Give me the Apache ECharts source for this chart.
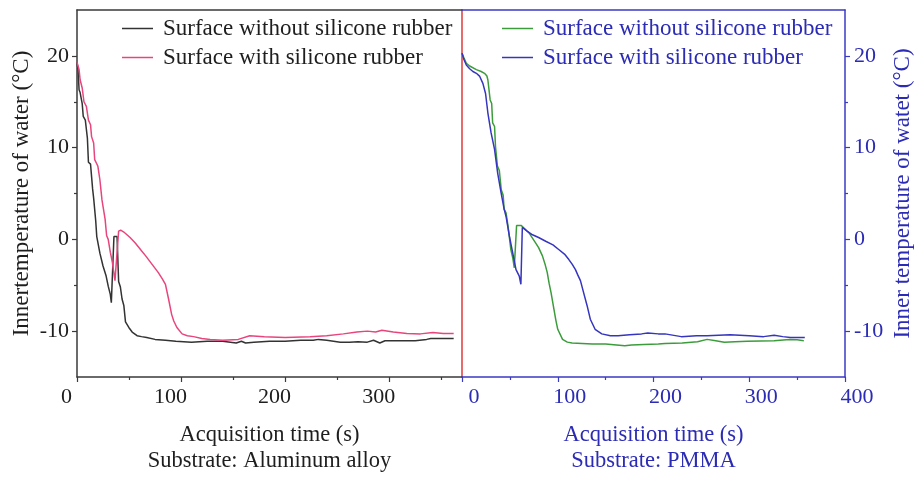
<!DOCTYPE html>
<html>
<head>
<meta charset="utf-8">
<script src="https://cdn.jsdelivr.net/npm/echarts@6/dist/echarts.min.js"></script>
<style>
  html, body { margin: 0; padding: 0; background: #ffffff; }
  #chart { width: 915px; height: 479px; }
</style>
</head>
<body>
<div id="chart"></div>
<script>
// Inner water temperature during freezing, two substrates side by side.

const legendLabels = ['Surface without silicone rubber', 'Surface with silicone rubber'];
const xMajorTicks = [0, 100, 200, 300];
const xMinorTicks = [50, 150, 250, 350];
const xMajorTicksPmma = [0, 100, 200, 300, 400];
const yMajorTicks = [-10, 0, 10, 20];
const yMinorTicks = [-5, 5, 15];

// Substrate: aluminum alloy, bare surface
const alBareTime = [0, 1, 2, 3, 5, 6, 8, 10, 11, 13, 15, 16, 18, 19, 22, 25, 28, 30, 32, 33, 34.5, 35.5, 38.5, 40, 41.7, 43.3, 45, 46.6, 49.8, 53, 57.7, 62, 67, 75, 85, 95, 110, 125, 140, 153, 158, 162, 170, 185, 200, 215, 227, 232, 240, 253, 262, 270, 279, 285, 291, 296, 310, 325, 336, 340, 350, 362];
const alBareTemp = [19.3, 18.5, 16.3, 16.0, 14.8, 13.4, 13.0, 11.0, 8.4, 8.2, 5.5, 4.5, 2.0, 0.3, -1.5, -2.9, -4.0, -5.1, -6.0, -6.9, -6.9, 0.3, 0.3, -4.6, -5.2, -6.5, -7.2, -9.0, -9.6, -10.1, -10.5, -10.6, -10.7, -10.9, -11.0, -11.1, -11.2, -11.1, -11.1, -11.3, -11.1, -11.3, -11.2, -11.1, -11.1, -11.0, -11.0, -10.9, -11.0, -11.2, -11.2, -11.15, -11.2, -11.0, -11.3, -11.05, -11.05, -11.05, -10.9, -10.8, -10.8, -10.8];

// Substrate: aluminum alloy, silicone rubber coated
const alCoatTime = [0, 2, 3, 5, 6.7, 9, 11, 13, 14, 16, 17, 20, 22, 24, 25, 27, 28.5, 30, 32, 34, 35, 36.5, 38, 40, 42, 45, 51, 56, 61, 66, 70, 74, 78, 82, 85, 88, 91, 93, 96, 101, 106, 112, 120, 128, 140, 155, 166, 180, 200, 224, 240, 256, 269, 279, 287, 293, 304, 317, 330, 342, 352, 362];
const alCoatTemp = [19.3, 18.5, 17.4, 16.5, 15.0, 14.5, 13.0, 12.5, 11.2, 10.5, 8.7, 8.0, 6.5, 4.3, 3.6, 2.2, 0.4, 0.0, -1.4, -2.5, -3.3, -4.5, -4.5, 0.9, 1.0, 0.8, 0.2, -0.4, -1.1, -1.8, -2.4, -3.0, -3.6, -4.3, -4.9, -6.5, -8.2, -8.9, -9.6, -10.3, -10.5, -10.6, -10.8, -10.9, -11.0, -10.9, -10.5, -10.6, -10.7, -10.6, -10.5, -10.3, -10.1, -10.0, -10.1, -9.9, -10.1, -10.25, -10.3, -10.15, -10.25, -10.25];

// Substrate: PMMA, bare surface
const pmmaBareTime = [0, 2, 4.5, 8, 15, 20, 23.5, 26, 27, 29.4, 31, 32, 34, 35, 37, 39, 41, 43, 44, 46, 48, 51, 53, 54.6, 56, 57, 62, 66, 70, 77, 80, 84, 87, 89, 91, 93, 96, 98, 100, 105, 110, 115, 136, 150, 170, 177, 190, 205, 212, 230, 246, 256, 265, 274, 285, 298, 326, 342, 350, 357];
const pmmaBareTemp = [20.3, 19.8, 19.2, 18.9, 18.5, 18.3, 18.1, 17.8, 17.4, 15.2, 14.8, 12.7, 12.3, 10.1, 8.0, 7.5, 5.4, 4.8, 3.3, 2.9, 1.5, -1.1, -2.0, -3.1, -3.1, 1.5, 1.5, 1.1, 0.7, -0.4, -0.9, -1.8, -2.8, -3.6, -4.8, -5.8, -7.6, -8.8, -9.8, -10.9, -11.2, -11.3, -11.4, -11.4, -11.6, -11.5, -11.45, -11.4, -11.35, -11.3, -11.15, -10.9, -11.05, -11.2, -11.15, -11.1, -11.05, -10.9, -10.95, -11.05];

// Substrate: PMMA, silicone rubber coated
const pmmaCoatTime = [0, 2, 4.5, 8, 11.4, 15, 18.3, 21.8, 24.6, 27, 30.4, 34, 37.3, 40.8, 44, 46, 49.4, 52.8, 56.4, 59.8, 61.5, 63, 68, 73.6, 80, 87.4, 95, 101, 107, 111.6, 115, 118.5, 121, 123.7, 127, 130.6, 134, 139, 146, 155, 163, 175, 187.5, 194, 205, 212, 229, 245, 256, 268, 280, 300, 315, 326, 335, 343, 358];
const pmmaCoatTemp = [20.3, 19.6, 19.0, 18.6, 18.3, 18.1, 17.8, 17.0, 15.9, 13.8, 11.6, 9.8, 7.2, 5.1, 3.3, 2.5, 0.4, -1.4, -3.3, -4.0, -4.9, 1.3, 0.9, 0.5, 0.2, -0.2, -0.6, -1.1, -1.6, -2.2, -2.7, -3.3, -3.9, -4.5, -5.8, -7.2, -8.7, -9.8, -10.3, -10.5, -10.5, -10.4, -10.3, -10.2, -10.3, -10.3, -10.6, -10.5, -10.5, -10.45, -10.4, -10.5, -10.6, -10.45, -10.6, -10.7, -10.7];

const FONT = '"Liberation Serif", "Times New Roman", serif';
const DARK = '#3a3a3a';
const TEXT_DARK = '#1e1e1e';
const BLUE = '#3a3ac4';
const TEXT_BLUE = '#2b2bb5';
const RED = '#e03a3a';

const pairs = (xs, ys) => xs.map((x, i) => [x, ys[i]]);

// Series names are distinct per panel; the legend shows the shared label.
const legendText = {
  'al-bare': legendLabels[0],
  'al-coat': legendLabels[1],
  'pmma-bare': legendLabels[0],
  'pmma-coat': legendLabels[1]
};

const lineSeries = (name, xIdx, yIdx, data, color) => ({
  name, type: 'line', xAxisIndex: xIdx, yAxisIndex: yIdx, data,
  symbol: 'none', showSymbol: false, smooth: false,
  lineStyle: { color, width: 1.5 }, itemStyle: { color }
});

const labelFont = { fontFamily: FONT, fontSize: 22 };
const legendFont = { fontFamily: FONT, fontSize: 23 };
const yNameFont = { fontFamily: FONT, fontSize: 23 };

const legendBase = {
  orient: 'vertical', top: 17, icon: 'rect',
  itemWidth: 31, itemHeight: 1.5, itemGap: 6, padding: 0,
  formatter: n => legendText[n], selectedMode: false
};

const option = {
  backgroundColor: '#ffffff',
  animation: false,
  grid: [
    { left: 77, top: 10, width: 385, height: 369 },
    { left: 462, top: 10, width: 386, height: 369 }
  ],
  legend: [
    {
      ...legendBase, data: ['al-bare', 'al-coat'], left: 122,
      textStyle: { ...legendFont, color: TEXT_DARK, padding: [0, 0, 0, 5], lineHeight: 22 }
    },
    {
      ...legendBase, data: ['pmma-bare', 'pmma-coat'], left: 502,
      textStyle: { ...legendFont, color: TEXT_BLUE, padding: [0, 0, 0, 5], lineHeight: 22 }
    }
  ],
  xAxis: [
    {
      gridIndex: 0, type: 'value', min: 0, max: 370, position: 'bottom',
      axisLine: { onZero: false, lineStyle: { color: DARK, width: 1.5 } },
      axisTick: { customValues: xMajorTicks, length: 5, lineStyle: { color: DARK, width: 1.2 } },
      axisLabel: { customValues: xMajorTicks, ...labelFont, color: TEXT_DARK, margin: 9, padding: [0, 21, 0, 0] },
      splitLine: { show: false },
      name: 'Acquisition time (s)\nSubstrate: Aluminum alloy',
      nameLocation: 'middle', nameGap: 45,
      nameTextStyle: { fontFamily: FONT, fontSize: 22.5, color: TEXT_DARK, lineHeight: 26 }
    },
    {
      gridIndex: 0, type: 'value', min: 0, max: 370, position: 'bottom',
      axisLine: { show: false, onZero: false },
      axisTick: { customValues: xMinorTicks, length: 3, lineStyle: { color: DARK, width: 1.2 } },
      axisLabel: { show: false }, splitLine: { show: false }
    },
    {
      gridIndex: 0, type: 'value', min: 0, max: 370, position: 'top',
      axisLine: { onZero: false, lineStyle: { color: DARK, width: 1.5 } },
      axisTick: { show: false }, axisLabel: { show: false }, splitLine: { show: false }
    },
    {
      gridIndex: 1, type: 'value', min: 0, max: 400, position: 'bottom',
      axisLine: { onZero: false, lineStyle: { color: BLUE, width: 1.5 } },
      axisTick: { customValues: xMajorTicksPmma, length: 5, lineStyle: { color: BLUE, width: 1.2 } },
      axisLabel: { customValues: xMajorTicksPmma, ...labelFont, color: TEXT_BLUE, margin: 9, padding: [0, 0, 0, 24] },
      splitLine: { show: false },
      name: 'Acquisition time (s)\nSubstrate: PMMA',
      nameLocation: 'middle', nameGap: 45,
      nameTextStyle: { fontFamily: FONT, fontSize: 22.5, color: TEXT_BLUE, lineHeight: 26 }
    },
    {
      gridIndex: 1, type: 'value', min: 0, max: 400, position: 'bottom',
      axisLine: { show: false, onZero: false },
      axisTick: { customValues: xMinorTicks, length: 3, lineStyle: { color: BLUE, width: 1.2 } },
      axisLabel: { show: false }, splitLine: { show: false }
    },
    {
      gridIndex: 1, type: 'value', min: 0, max: 400, position: 'top',
      axisLine: { onZero: false, lineStyle: { color: BLUE, width: 1.5 } },
      axisTick: { show: false }, axisLabel: { show: false }, splitLine: { show: false }
    }
  ],
  yAxis: [
    {
      gridIndex: 0, type: 'value', min: -15, max: 25, position: 'left',
      axisLine: { show: true, onZero: false, lineStyle: { color: DARK, width: 1.5 } },
      axisTick: { show: true, customValues: yMajorTicks, length: 5, lineStyle: { color: DARK, width: 1.2 } },
      axisLabel: { customValues: yMajorTicks, ...labelFont, color: TEXT_DARK, margin: 8 },
      splitLine: { show: false },
      name: 'Innertemperature of water (°C)',
      nameLocation: 'middle', nameGap: 44,
      nameTextStyle: { ...yNameFont, color: TEXT_DARK }
    },
    {
      gridIndex: 0, type: 'value', min: -15, max: 25, position: 'left',
      axisLine: { show: false, onZero: false },
      axisTick: { show: true, customValues: yMinorTicks, length: 3, lineStyle: { color: DARK, width: 1.2 } },
      axisLabel: { show: false }, splitLine: { show: false }
    },
    {
      gridIndex: 0, type: 'value', min: -15, max: 25, position: 'right',
      axisLine: { show: true, onZero: false, lineStyle: { color: RED, width: 1.5 } },
      axisTick: { show: false }, axisLabel: { show: false }, splitLine: { show: false }
    },
    {
      gridIndex: 1, type: 'value', min: -15, max: 25, position: 'right',
      axisLine: { show: true, onZero: false, lineStyle: { color: BLUE, width: 1.5 } },
      axisTick: { show: true, customValues: yMajorTicks, length: 5, lineStyle: { color: BLUE, width: 1.2 } },
      axisLabel: { customValues: yMajorTicks, ...labelFont, color: TEXT_BLUE, margin: 9 },
      splitLine: { show: false },
      name: 'Inner temperature of watet (°C)',
      nameLocation: 'middle', nameGap: 46,
      nameTextStyle: { ...yNameFont, color: TEXT_BLUE }
    },
    {
      gridIndex: 1, type: 'value', min: -15, max: 25, position: 'right',
      axisLine: { show: false, onZero: false },
      axisTick: { show: true, customValues: yMinorTicks, length: 3, lineStyle: { color: BLUE, width: 1.2 } },
      axisLabel: { show: false }, splitLine: { show: false }
    }
  ],
  series: [
    lineSeries('al-bare', 0, 0, pairs(alBareTime, alBareTemp), '#333333'),
    lineSeries('al-coat', 0, 0, pairs(alCoatTime, alCoatTemp), '#e8457f'),
    lineSeries('pmma-bare', 3, 3, pairs(pmmaBareTime, pmmaBareTemp), '#3c9c3c'),
    lineSeries('pmma-coat', 3, 3, pairs(pmmaCoatTime, pmmaCoatTemp), '#3535c0')
  ]
};

const chart = echarts.init(document.getElementById('chart'), null, { renderer: 'canvas' });
chart.setOption(option);
</script>
</body>
</html>
